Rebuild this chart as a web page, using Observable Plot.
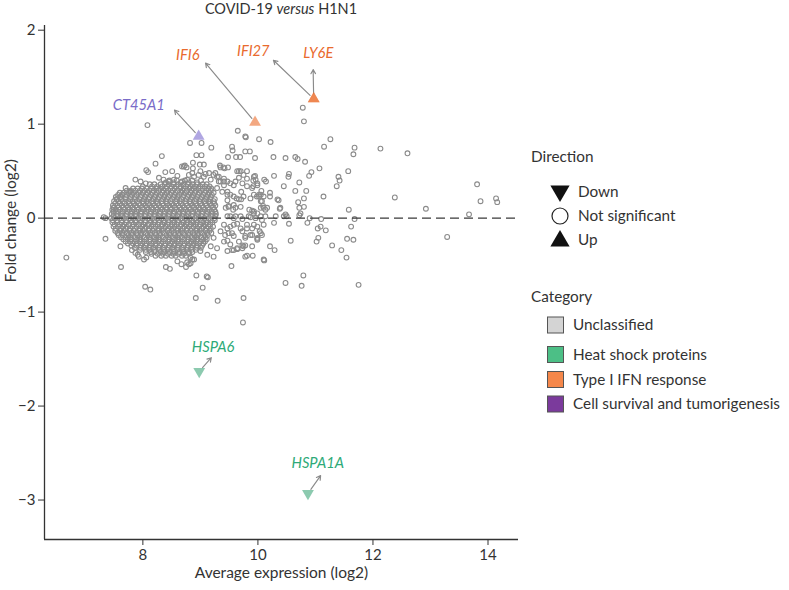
<!DOCTYPE html>
<html><head><meta charset="utf-8">
<script src="https://cdn.jsdelivr.net/npm/d3@7"></script>
<script src="https://cdn.jsdelivr.net/npm/@observablehq/plot@0.6"></script>
<style>
body{margin:0;background:#fff;font-family:Lato,sans-serif;}
#wrap{position:relative;width:789px;height:590px;overflow:hidden;}
#wrap svg{position:absolute;left:0;top:0;}
#title{position:absolute;left:0;top:0;width:562px;text-align:center;font-size:14.5px;line-height:18px;color:#333;z-index:2;}
</style></head>
<body><div id="wrap"><div id="title">COVID-19 <i>versus</i> H1N1</div></div>
<script>
// ---- axis / tick data ----
const xDomain = [6.29, 14.53];
const yDomain = [-3.42, 2.05];
const xTicks = [8, 10, 12, 14];
const yTicks = [-3, -2, -1, 0, 1, 2];

// ---- dense core of non-significant genes (rows of fold change, average expressions) ----
const coreFC = [0.40, 0.38, 0.36, 0.3375, 0.315, 0.2925, 0.27, 0.2475, 0.225, 0.2025, 0.18, 0.1575, 0.135, 0.1125, 0.09, 0.0675, 0.045, 0.0225, 0.0,
  -0.0225, -0.045, -0.0675, -0.09, -0.1125, -0.135, -0.1575, -0.18, -0.2025, -0.225, -0.2475, -0.27, -0.2925, -0.315, -0.3375, -0.36, -0.38, -0.40];
const coreExpr = [
  [8.46, 8.59, 8.73, 8.86, 9.01],
  [8.40, 8.53, 8.66, 8.80, 8.94],
  [8.12, 8.20, 8.31, 8.38, 8.45, 8.54, 8.61, 8.71, 8.78, 8.87, 8.94, 9.04, 9.11],
  [8.00, 8.16, 8.25, 8.34, 8.42, 8.50, 8.58, 8.66, 8.75, 8.83, 8.91, 9.00, 9.08, 9.16],
  [7.83, 7.91, 7.98, 8.07, 8.14, 8.24, 8.30, 8.40, 8.48, 8.55, 8.65, 8.71, 8.81, 8.87, 8.97, 9.04, 9.14, 9.19],
  [7.72, 7.79, 7.87, 7.95, 8.03, 8.11, 8.19, 8.27, 8.36, 8.44, 8.52, 8.60, 8.69, 8.76, 8.85, 8.92, 9.01, 9.10, 9.18],
  [7.60, 7.67, 7.76, 7.83, 7.93, 8.00, 8.08, 8.17, 8.24, 8.34, 8.41, 8.50, 8.57, 8.67, 8.73, 8.83, 8.90, 8.98, 9.08, 9.15, 9.23],
  [7.57, 7.64, 7.72, 7.81, 7.89, 7.97, 8.06, 8.14, 8.22, 8.31, 8.38, 8.47, 8.55, 8.63, 8.71, 8.80, 8.87, 8.96, 9.05, 9.13, 9.20],
  [7.53, 7.61, 7.70, 7.79, 7.86, 7.96, 8.04, 8.11, 8.21, 8.28, 8.37, 8.44, 8.54, 8.60, 8.70, 8.78, 8.85, 8.95, 9.02, 9.11, 9.18],
  [7.54, 7.62, 7.70, 7.78, 7.86, 7.94, 8.02, 8.10, 8.19, 8.26, 8.35, 8.42, 8.51, 8.59, 8.67, 8.76, 8.83, 8.93, 9.00, 9.10, 9.17, 9.25],
  [7.50, 7.58, 7.65, 7.75, 7.82, 7.90, 8.00, 8.06, 8.16, 8.23, 8.33, 8.40, 8.48, 8.58, 8.64, 8.74, 8.81, 8.91, 8.98, 9.08, 9.14, 9.23],
  [7.52, 7.60, 7.68, 7.77, 7.84, 7.93, 8.01, 8.09, 8.18, 8.25, 8.34, 8.42, 8.50, 8.59, 8.66, 8.75, 8.83, 8.92, 9.00, 9.09, 9.17, 9.24],
  [7.48, 7.56, 7.63, 7.72, 7.78, 7.88, 7.95, 8.05, 8.11, 8.21, 8.28, 8.36, 8.46, 8.52, 8.62, 8.69, 8.77, 8.87, 8.93, 9.03, 9.10, 9.20, 9.26],
  [7.50, 7.58, 7.66, 7.74, 7.82, 7.90, 7.99, 8.07, 8.15, 8.23, 8.31, 8.40, 8.48, 8.56, 8.64, 8.72, 8.80, 8.89, 8.97, 9.05, 9.13, 9.22],
  [7.47, 7.53, 7.60, 7.69, 7.76, 7.85, 7.92, 8.02, 8.09, 8.18, 8.25, 8.34, 8.42, 8.49, 8.59, 8.66, 8.75, 8.82, 8.92, 8.99, 9.08, 9.15, 9.24],
  [7.49, 7.57, 7.65, 7.73, 7.81, 7.89, 7.97, 8.06, 8.14, 8.22, 8.30, 8.38, 8.46, 8.55, 8.62, 8.71, 8.78, 8.87, 8.95, 9.04, 9.12, 9.20, 9.26],
  [7.46, 7.55, 7.62, 7.72, 7.79, 7.87, 7.97, 8.04, 8.13, 8.20, 8.30, 8.37, 8.46, 8.53, 8.63, 8.70, 8.79, 8.86, 8.96, 9.03, 9.11, 9.21, 9.27],
  [7.49, 7.56, 7.64, 7.71, 7.80, 7.88, 7.96, 8.04, 8.12, 8.21, 8.28, 8.37, 8.44, 8.53, 8.60, 8.69, 8.76, 8.86, 8.93, 9.02, 9.10, 9.19, 9.26],
  [7.45, 7.51, 7.60, 7.67, 7.76, 7.83, 7.92, 7.99, 8.09, 8.16, 8.25, 8.32, 8.40, 8.50, 8.56, 8.66, 8.73, 8.81, 8.91, 8.97, 9.07, 9.14, 9.24],
  [7.48, 7.55, 7.63, 7.71, 7.79, 7.87, 7.95, 8.04, 8.12, 8.20, 8.28, 8.36, 8.44, 8.52, 8.61, 8.69, 8.76, 8.85, 8.93, 9.01, 9.10, 9.18, 9.25],
  [7.47, 7.56, 7.63, 7.71, 7.81, 7.88, 7.97, 8.04, 8.14, 8.21, 8.28, 8.38, 8.45, 8.55, 8.61, 8.71, 8.78, 8.88, 8.94, 9.05, 9.11, 9.21],
  [7.51, 7.60, 7.68, 7.76, 7.84, 7.93, 8.01, 8.10, 8.18, 8.26, 8.34, 8.43, 8.51, 8.59, 8.67, 8.76, 8.83, 8.92, 9.00, 9.09, 9.17],
  [7.49, 7.57, 7.66, 7.72, 7.82, 7.89, 7.99, 8.05, 8.15, 8.22, 8.32, 8.39, 8.49, 8.55, 8.65, 8.72, 8.81, 8.88, 8.98, 9.05, 9.14, 9.22],
  [7.53, 7.62, 7.70, 7.78, 7.86, 7.95, 8.03, 8.11, 8.19, 8.28, 8.35, 8.45, 8.52, 8.61, 8.69, 8.77, 8.85, 8.94, 9.02, 9.11, 9.18],
  [7.52, 7.61, 7.67, 7.77, 7.84, 7.94, 8.00, 8.10, 8.17, 8.27, 8.33, 8.43, 8.50, 8.60, 8.66, 8.76, 8.83, 8.93, 8.99, 9.09, 9.16],
  [7.56, 7.64, 7.72, 7.80, 7.89, 7.96, 8.05, 8.13, 8.21, 8.29, 8.37, 8.46, 8.54, 8.62, 8.70, 8.79, 8.87, 8.95, 9.03, 9.12, 9.19],
  [7.58, 7.65, 7.75, 7.81, 7.91, 7.97, 8.08, 8.14, 8.23, 8.30, 8.41, 8.47, 8.56, 8.63, 8.73, 8.80, 8.90, 8.96, 9.07, 9.13],
  [7.62, 7.70, 7.78, 7.86, 7.94, 8.03, 8.11, 8.19, 8.27, 8.35, 8.44, 8.52, 8.60, 8.68, 8.77, 8.85, 8.93, 9.02, 9.09],
  [7.66, 7.74, 7.80, 7.90, 7.96, 8.06, 8.13, 8.23, 8.29, 8.39, 8.46, 8.56, 8.62, 8.72, 8.79, 8.89, 8.95, 9.05, 9.11],
  [7.70, 7.78, 7.86, 7.95, 8.02, 8.11, 8.19, 8.27, 8.35, 8.44, 8.51, 8.61, 8.68, 8.77, 8.84, 8.93, 9.01, 9.08],
  [7.74, 7.83, 7.89, 7.99, 8.06, 8.16, 8.22, 8.32, 8.39, 8.49, 8.55, 8.65, 8.72, 8.82, 8.88, 8.98, 9.05],
  [7.80, 7.89, 7.96, 8.05, 8.12, 8.22, 8.29, 8.38, 8.46, 8.55, 8.61, 8.71, 8.78, 8.87, 8.93, 9.03],
  [7.86, 7.96, 8.02, 8.12, 8.18, 8.28, 8.35, 8.45, 8.51, 8.61, 8.68, 8.78, 8.84, 8.94, 9.01],
  [7.95, 8.05, 8.11, 8.21, 8.28, 8.37, 8.43, 8.54, 8.60, 8.70, 8.76, 8.85, 8.92],
  [8.05, 8.14, 8.20, 8.31, 8.37, 8.47, 8.53, 8.64, 8.70, 8.80, 8.86],
  [8.15, 8.26, 8.35, 8.44, 8.53, 8.62, 8.71, 8.80],
  [8.22, 8.32, 8.40, 8.50, 8.57, 8.68, 8.75]
];

// ---- scattered non-significant genes [average expression, fold change] ----
const scatterGenes = [
  [10.78,1.175],[10.80,1.03],[9.65,0.93],[9.78,0.87],[9.79,0.86],[10.02,0.84],[10.22,0.81],[11.26,0.84],[11.15,0.76],
  [11.68,0.75],[11.66,0.68],[12.13,0.74],[12.60,0.69],[9.55,0.76],[9.56,0.72],[9.78,0.71],[9.86,0.71],[9.48,0.65],
  [9.62,0.65],[9.69,0.65],[9.95,0.64],[10.27,0.65],[10.48,0.64],[10.65,0.65],[10.69,0.63],[10.82,0.60],[11.07,0.53],
  [11.57,0.50],[10.93,0.49],[10.89,0.45],[10.54,0.47],[10.53,0.44],[10.28,0.45],[10.72,0.38],[11.40,0.44],[11.42,0.40],
  [11.37,0.34],[10.45,0.34],[10.65,0.29],[10.84,0.29],[11.14,0.23],[10.36,0.19],[10.70,0.17],[10.80,0.12],[10.72,0.11],
  [10.38,0.10],[13.81,0.36],[12.38,0.22],[12.92,0.10],[13.87,0.18],[14.14,0.21],[14.16,0.17],[13.67,0.04],[11.58,0.09],
  [11.68,-0.01],[11.10,-0.01],[10.90,0.0],[10.45,0.02],[10.50,0.02],[10.72,0.03],[10.74,0.05],[10.31,0.02],[10.54,-0.06],
  [10.86,-0.05],[10.28,-0.05],[11.09,-0.09],[11.04,-0.11],[11.18,-0.13],[11.62,-0.09],[11.05,-0.21],[11.02,-0.25],
  [11.55,-0.22],[11.66,-0.23],[10.57,-0.24],[11.29,-0.29],[11.45,-0.34],[11.54,-0.42],[13.29,-0.20],[10.21,-0.30],
  [10.29,-0.34],[10.11,-0.45],[10.79,-0.61],[10.48,-0.69],[10.76,-0.72],[11.75,-0.71],[9.75,-0.85],[10.80,0.21],
  [10.34,0.20],[10.39,0.11],[10.48,0.04],[10.16,0.11],[10.05,0.18],[9.93,0.25],
  [9.95,0.45],[9.81,0.50],[9.81,0.42],[9.67,0.43],[9.61,0.39],[9.58,0.35],[9.92,0.40],[9.92,0.34],[10.11,0.41],
  [10.14,0.39],[10.06,0.29],[10.05,0.25],[10.21,0.27],[10.21,0.23],[9.98,0.23],[10.02,0.23],[9.71,0.28],[9.63,0.21],
  [9.71,0.20],[9.52,0.25],[9.47,0.28],[9.41,0.39],[10.07,0.18],[10.09,0.13],[10.10,0.11],[9.85,0.09],[9.90,0.08],
  [9.93,0.05],[9.99,0.05],[9.47,0.19],[9.49,0.13],[9.58,0.14],[9.57,0.09],[9.44,0.11],[9.52,0.02],[9.61,0.02],
  [9.70,0.02],[9.84,0.02],[10.05,0.02],[10.13,0.02],[9.41,-0.07],[9.47,-0.11],[9.58,-0.07],[9.70,-0.11],[9.81,-0.07],
  [9.93,-0.07],[9.90,-0.11],[9.43,-0.18],[9.55,-0.16],[9.78,-0.19],[9.99,-0.21],[10.07,-0.18],[10.03,-0.14],[9.47,-0.24],
  [9.52,-0.28],[9.55,-0.34],[9.64,-0.33],[9.73,-0.29],[9.78,-0.29],[9.81,-0.40],[9.91,-0.40],[9.54,-0.51],
  [8.71,0.55],[8.76,0.54],[8.87,0.53],[9.34,0.56],[9.40,0.54],[9.48,0.54],[9.00,0.50],[9.09,0.47],[9.15,0.48],
  [9.23,0.46],[9.29,0.44],[8.80,0.46],[8.89,0.44],[8.77,0.41],[9.67,0.50],[9.75,0.46],[9.93,0.44],[9.52,0.37],
  [9.73,0.37],[9.81,0.34],[9.90,0.32],[9.99,0.35],[9.35,0.39],[9.41,0.35],[9.29,0.32],[9.38,0.28],[9.47,0.25],
  [9.58,0.23],[9.67,0.20],[9.75,0.23],[9.87,0.21],[10.02,0.25],[10.10,0.23],[9.49,0.12],[9.61,0.11],[9.70,0.12],
  [9.93,0.07],[10.05,0.11],[10.13,0.09],[9.47,0.02],[9.58,0.0],[9.73,-0.01],[9.87,0.01],[9.96,0.0],[10.07,-0.02],
  [9.52,-0.09],[9.64,-0.06],[9.81,-0.11],[9.99,-0.09],[10.10,-0.07],[9.35,-0.14],[9.49,-0.16],[9.58,-0.19],
  [9.73,-0.14],[9.90,-0.18],[10.05,-0.16],[9.23,-0.21],[9.41,-0.25],[9.67,-0.25],[9.78,-0.21],[9.99,-0.23],
  [9.18,-0.30],[9.29,-0.32],[9.47,-0.35],[9.58,-0.34],[9.73,-0.32],[9.90,-0.30],[9.00,-0.35],[9.12,-0.39],
  [9.23,-0.41],[8.83,-0.42],[8.89,-0.44],[8.77,-0.47],[9.78,-0.41],[10.10,-0.44],[9.35,0.54],[9.42,0.53],
  [9.32,0.39],[9.64,0.50],[9.70,0.50],[9.96,0.41],[9.99,0.37],[9.75,-0.30],[9.64,-0.32],[9.87,-0.18],[9.99,-0.22],
  [8.08,0.99],[8.82,0.80],[9.02,0.80],[9.19,0.75],[8.33,0.66],[8.22,0.58],[8.93,0.67],[9.02,0.67],[8.06,0.51],
  [8.09,0.49],[8.87,0.59],[8.99,0.57],[9.06,0.57],[8.68,0.55],[8.73,0.56],[8.39,0.49],[8.51,0.50],[7.87,0.41],
  [7.96,0.39],[7.32,0.01],[7.35,0.0],[8.60,0.45],[8.86,0.48],[8.05,0.37],[8.28,0.43],[8.36,0.41],[8.45,0.39],
  [8.54,0.41],[8.68,0.39],[8.97,0.46],[9.06,0.44],[9.18,0.41],[9.26,0.48],[9.32,0.44],[9.41,0.42],[9.47,0.39],
  [7.70,0.32],[7.78,0.28],[7.64,0.25],[7.55,0.20],[7.49,0.11],
  [6.67,-0.42],[7.35,-0.22],[7.61,-0.30],[7.62,-0.52],[7.81,-0.34],[7.87,-0.37],[7.91,-0.39],[7.93,-0.41],
  [8.02,-0.44],[8.06,-0.42],[8.40,-0.52],[8.47,-0.54],[8.60,-0.46],[8.67,-0.49],[8.75,-0.52],[8.80,-0.49],
  [8.86,-0.44],[8.83,-0.48],[8.93,-0.61],[9.11,-0.62],[9.13,-0.63],[8.04,-0.73],[8.13,-0.76],[9.04,-0.74],
  [8.92,-0.85],[9.30,-0.88],[9.74,-1.11]
];

// ---- significant / labelled genes ----
const genes = ["CT45A1", "IFI6", "IFI27", "LY6E", "HSPA6", "HSPA1A"];
const geneExpr = [8.97, 9.95, 10.97, 10.97, 8.98, 10.87];
const geneFC = [0.87, 1.02, 1.27, 1.27, -1.63, -2.93];
const geneDirection = ["Up", "Up", "Up", "Up", "Down", "Down"];
const geneCategory = ["Cell survival and tumorigenesis", "Type I IFN response", "Type I IFN response", "Type I IFN response", "Heat shock proteins", "Heat shock proteins"];
// label anchor (data units) and arrow tip (data units)
const labelExpr = [7.93, 8.78, 9.92, 11.05, 9.22, 11.04];
const labelFC = [1.20, 1.73, 1.78, 1.75, -1.37, -2.61];
const arrowExpr = [8.55, 9.09, 10.27, 10.96, 9.19, 11.09];
const arrowFC = [1.15, 1.65, 1.68, 1.58, -1.485, -2.74];

// ---- legend ----
const directions = ["Down", "Not significant", "Up"];
const categories = ["Unclassified", "Heat shock proteins", "Type I IFN response", "Cell survival and tumorigenesis"];
const categorySwatch = ["#d4d4d4", "#4cbf86", "#f5874a", "#7b3a9c"];
const categoryMark = {"Cell survival and tumorigenesis": "#8070d0", "Type I IFN response": "#eb7233", "Heat shock proteins": "#46aa7e"};
const categoryLabel = {"Cell survival and tumorigenesis": "#7a6cc8", "Type I IFN response": "#e96a2e", "Heat shock proteins": "#2eaa78"};

// ---- build rows ----
const bg = [];
coreFC.forEach((fc, i) => coreExpr[i].forEach(x => bg.push({x, y: fc})));
scatterGenes.forEach(([x, y]) => bg.push({x, y}));
const sig = genes.map((g, i) => ({gene: g, x: geneExpr[i], y: geneFC[i], dir: geneDirection[i], cat: geneCategory[i],
  lx: labelExpr[i], ly: labelFC[i], ax: arrowExpr[i], ay: arrowFC[i]}));

const triUp = {draw(ctx, size) { const s = Math.sqrt(size * 4 / Math.sqrt(3)), h = s * Math.sqrt(3) / 2;
  ctx.moveTo(0, -2 * h / 3); ctx.lineTo(s / 2, h / 3); ctx.lineTo(-s / 2, h / 3); ctx.closePath(); }};
const triDown = {draw(ctx, size) { const s = Math.sqrt(size * 4 / Math.sqrt(3)), h = s * Math.sqrt(3) / 2;
  ctx.moveTo(0, 2 * h / 3); ctx.lineTo(s / 2, -h / 3); ctx.lineTo(-s / 2, -h / 3); ctx.closePath(); }};

const geneMarks = sig.flatMap(d => [
  Plot.dot([d], {x: "x", y: "y", r: 4.4, symbol: d.dir === "Up" ? triUp : triDown, fill: categoryMark[d.cat], fillOpacity: 0.62, stroke: "none"}),
  Plot.text([d], {x: "lx", y: "ly", text: "gene", fill: categoryLabel[d.cat], fontStyle: "italic", fontSize: 14.7})
]);

const chart = Plot.plot({
  width: 789, height: 590,
  marginLeft: 44, marginRight: 271, marginTop: 25, marginBottom: 51,
  x: {domain: xDomain},
  y: {domain: yDomain},
  style: {fontFamily: "Lato, sans-serif", fontSize: "15px", color: "#333", background: "transparent"},
  marks: [
    Plot.dot(bg, {x: "x", y: "y", r: 2.4, stroke: "#8b8b8b", strokeWidth: 1.1, fill: "none"}),
    Plot.ruleY([0], {stroke: "#3a3a3a", strokeWidth: 1.3, strokeDasharray: "9,5"}),
    Plot.arrow(sig, {x1: "x", y1: "y", x2: "ax", y2: "ay", stroke: "#8a8a8a", strokeWidth: 1.15, headLength: 6, insetStart: 5}),
    ...geneMarks,
    Plot.ruleX([xDomain[0]], {stroke: "#333", strokeWidth: 1.3}),
    Plot.ruleY([yDomain[0]], {stroke: "#333", strokeWidth: 1.3}),
    Plot.axisX({ticks: xTicks, tickFormat: "d", tickSize: 6, tickPadding: 4, label: null, stroke: "#333", fill: "#333", fontSize: 15}),
    Plot.axisY({ticks: yTicks, tickFormat: "d", tickSize: 6, tickPadding: 3, label: null, stroke: "#333", fill: "#333", fontSize: 15}),
    Plot.text(["Average expression (log2)"], {frameAnchor: "bottom", dy: 38, fill: "#333", fontSize: 15.5}),
    Plot.text(["Fold change (log2)"], {frameAnchor: "left", dx: -33, rotate: -90, fill: "#333", fontSize: 15.5})
  ]
});
document.getElementById("wrap").appendChild(chart);

// ---- legend overlay ----
const lg = d3.select("#wrap").append("svg").attr("width", 789).attr("height", 590)
  .style("font-family", "Lato, sans-serif").style("font-size", "15.3px");
lg.append("text").attr("x", 531).attr("y", 157).attr("dy", "0.35em").attr("fill", "#333").text("Direction");
const dirY = [192, 216, 240];
directions.forEach((d, i) => {
  const cy = dirY[i];
  if (d === "Not significant") {
    lg.append("circle").attr("cx", 560).attr("cy", cy).attr("r", 8).attr("fill", "#fff").attr("stroke", "#222").attr("stroke-width", 1.2);
  } else {
    const p = d3.path();
    (d === "Up" ? triUp : triDown).draw(p, 160);
    lg.append("path").attr("d", p.toString()).attr("transform", `translate(560,${cy + (d === "Up" ? 1 : -1)})`).attr("fill", "#111");
  }
  lg.append("text").attr("x", 578).attr("y", cy).attr("dy", "0.35em").attr("fill", "#333").text(d);
});
lg.append("text").attr("x", 531).attr("y", 297).attr("dy", "0.35em").attr("fill", "#333").text("Category");
const catY = [325, 354.5, 379.5, 404];
categories.forEach((c, i) => {
  lg.append("rect").attr("x", 547.5).attr("y", catY[i] - 8).attr("width", 16).attr("height", 16)
    .attr("fill", categorySwatch[i]).attr("stroke", "#555").attr("stroke-width", 1);
  lg.append("text").attr("x", 573).attr("y", catY[i]).attr("dy", "0.35em").attr("fill", "#333").text(c);
});
</script></body></html>
